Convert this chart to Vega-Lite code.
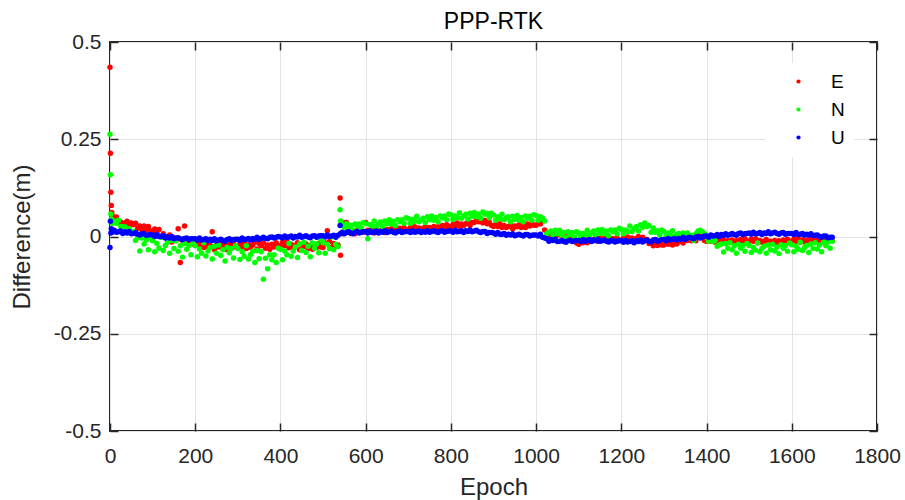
{
"$schema":"https://vega.github.io/schema/vega-lite/v6.json",
"width":767,"height":389,"autosize":"none",
"padding":{"left":110,"top":42,"right":28,"bottom":69},
"background":"white",
"config":{"view":{"stroke":"#262626","strokeWidth":2},"font":"Liberation Sans"},
"title":{"text":"PPP-RTK","fontSize":23,"font":"Liberation Sans","fontWeight":"normal","color":"#000000","offset":-3},
"data":{"values":[
{"t":0,"E":0.435,"N":0.263,"U":-0.028},
{"t":1,"E":0.214,"N":0.159,"U":0.039},
{"t":2,"E":0.114,"N":0.058,"U":0.009},
{"t":3,"E":0.080,"N":0.045,"U":0.020},
{"t":4,"E":0.062,"N":0.038,"U":0.015},
{"t":5,"E":0.054,"N":0.034,"U":0.011},
{"t":10,"E":0.046,"N":0.040,"U":0.016},
{"t":15,"E":0.050,"N":0.034,"U":0.011},
{"t":20,"E":0.036,"N":0.042,"U":0.012},
{"t":25,"E":0.037,"N":0.026,"U":0.014},
{"t":30,"E":0.032,"N":0.025,"U":0.008},
{"t":35,"E":0.035,"N":0.025,"U":0.012},
{"t":40,"E":0.039,"N":0.012,"U":0.009},
{"t":45,"E":0.028,"N":0.020,"U":0.013},
{"t":50,"E":0.035,"N":0.011,"U":0.007},
{"t":55,"E":0.030,"N":0.013,"U":0.008},
{"t":60,"E":0.034,"N":-0.010,"U":0.010},
{"t":65,"E":0.021,"N":-0.002,"U":0.006},
{"t":70,"E":0.027,"N":-0.037,"U":0.004},
{"t":75,"E":0.016,"N":-0.004,"U":0.007},
{"t":80,"E":0.027,"N":-0.019,"U":0.007},
{"t":85,"E":0.017,"N":-0.009,"U":0.003},
{"t":90,"E":0.026,"N":-0.034,"U":0.004},
{"t":95,"E":0.015,"N":-0.003,"U":0.005},
{"t":100,"E":0.011,"N":-0.011,"U":0.004},
{"t":105,"E":0.019,"N":-0.039,"U":0.000},
{"t":110,"E":0.009,"N":-0.018,"U":0.005},
{"t":115,"E":0.018,"N":-0.030,"U":0.000},
{"t":120,"E":-0.001,"N":-0.002,"U":0.000},
{"t":125,"E":0.007,"N":-0.036,"U":0.002},
{"t":130,"E":-0.003,"N":-0.023,"U":-0.004},
{"t":135,"E":0.000,"N":-0.015,"U":-0.001},
{"t":140,"E":0.004,"N":-0.043,"U":-0.004},
{"t":145,"E":-0.014,"N":-0.010,"U":0.000},
{"t":150,"E":-0.004,"N":-0.031,"U":-0.006},
{"t":155,"E":-0.010,"N":-0.011,"U":-0.004},
{"t":160,"E":0.020,"N":-0.038,"U":-0.003},
{"t":165,"E":-0.067,"N":-0.024,"U":-0.006},
{"t":170,"E":-0.010,"N":-0.053,"U":-0.008},
{"t":175,"E":0.027,"N":-0.018,"U":-0.005},
{"t":180,"E":-0.009,"N":-0.033,"U":-0.004},
{"t":185,"E":-0.018,"N":-0.023,"U":-0.008},
{"t":190,"E":-0.009,"N":-0.047,"U":-0.006},
{"t":195,"E":-0.019,"N":-0.016,"U":-0.006},
{"t":200,"E":-0.022,"N":-0.024,"U":-0.006},
{"t":205,"E":-0.013,"N":-0.052,"U":-0.009},
{"t":210,"E":-0.022,"N":-0.032,"U":-0.004},
{"t":215,"E":-0.011,"N":-0.043,"U":-0.009},
{"t":220,"E":-0.028,"N":-0.016,"U":-0.008},
{"t":225,"E":-0.019,"N":-0.050,"U":-0.006},
{"t":230,"E":-0.028,"N":-0.037,"U":-0.011},
{"t":235,"E":-0.023,"N":-0.029,"U":-0.007},
{"t":240,"E":0.012,"N":-0.058,"U":-0.010},
{"t":245,"E":-0.034,"N":-0.025,"U":-0.006},
{"t":250,"E":-0.022,"N":-0.043,"U":-0.011},
{"t":255,"E":-0.027,"N":-0.022,"U":-0.009},
{"t":260,"E":-0.020,"N":-0.049,"U":-0.007},
{"t":265,"E":-0.032,"N":-0.034,"U":-0.010},
{"t":270,"E":-0.024,"N":-0.063,"U":-0.012},
{"t":275,"E":-0.034,"N":-0.028,"U":-0.008},
{"t":280,"E":-0.020,"N":-0.042,"U":-0.006},
{"t":285,"E":-0.028,"N":-0.031,"U":-0.010},
{"t":290,"E":-0.018,"N":-0.055,"U":-0.008},
{"t":295,"E":-0.027,"N":-0.024,"U":-0.007},
{"t":300,"E":-0.029,"N":-0.031,"U":-0.007},
{"t":305,"E":-0.019,"N":-0.059,"U":-0.010},
{"t":310,"E":-0.026,"N":-0.039,"U":-0.004},
{"t":315,"E":-0.015,"N":-0.051,"U":-0.008},
{"t":320,"E":-0.031,"N":-0.024,"U":-0.007},
{"t":325,"E":-0.021,"N":-0.058,"U":-0.005},
{"t":330,"E":-0.028,"N":-0.046,"U":-0.009},
{"t":335,"E":-0.022,"N":-0.038,"U":-0.005},
{"t":340,"E":-0.015,"N":-0.067,"U":-0.007},
{"t":345,"E":-0.032,"N":-0.036,"U":-0.002},
{"t":350,"E":-0.018,"N":-0.057,"U":-0.007},
{"t":355,"E":-0.024,"N":-0.039,"U":-0.005},
{"t":360,"E":-0.017,"N":-0.110,"U":-0.002},
{"t":365,"E":-0.030,"N":-0.056,"U":-0.005},
{"t":370,"E":-0.022,"N":-0.083,"U":-0.006},
{"t":375,"E":-0.033,"N":-0.047,"U":-0.002},
{"t":380,"E":-0.020,"N":-0.060,"U":-0.001},
{"t":385,"E":-0.027,"N":-0.047,"U":-0.004},
{"t":390,"E":-0.016,"N":-0.067,"U":-0.002},
{"t":395,"E":-0.023,"N":-0.030,"U":0.000},
{"t":400,"E":-0.024,"N":-0.033,"U":-0.001},
{"t":405,"E":-0.015,"N":-0.060,"U":-0.004},
{"t":410,"E":-0.023,"N":-0.037,"U":0.001},
{"t":415,"E":-0.013,"N":-0.047,"U":-0.002},
{"t":420,"E":-0.029,"N":-0.018,"U":-0.001},
{"t":425,"E":-0.020,"N":-0.051,"U":0.001},
{"t":430,"E":-0.028,"N":-0.037,"U":-0.004},
{"t":435,"E":-0.023,"N":-0.027,"U":0.000},
{"t":440,"E":-0.016,"N":-0.054,"U":-0.001},
{"t":445,"E":-0.034,"N":-0.019,"U":0.003},
{"t":450,"E":-0.021,"N":-0.036,"U":-0.002},
{"t":455,"E":-0.026,"N":-0.015,"U":0.000},
{"t":460,"E":-0.019,"N":-0.041,"U":0.002},
{"t":465,"E":-0.031,"N":-0.025,"U":-0.001},
{"t":470,"E":-0.023,"N":-0.052,"U":-0.003},
{"t":475,"E":-0.033,"N":-0.017,"U":0.001},
{"t":480,"E":-0.020,"N":-0.030,"U":0.002},
{"t":485,"E":-0.028,"N":-0.019,"U":-0.002},
{"t":490,"E":-0.018,"N":-0.042,"U":0.001},
{"t":495,"E":-0.027,"N":-0.009,"U":0.002},
{"t":500,"E":-0.028,"N":-0.016,"U":0.002},
{"t":505,"E":-0.017,"N":-0.043,"U":-0.001},
{"t":510,"E":0.015,"N":-0.020,"U":0.004},
{"t":515,"E":-0.013,"N":-0.031,"U":0.000},
{"t":520,"E":-0.028,"N":-0.001,"U":0.001},
{"t":525,"E":-0.018,"N":-0.034,"U":0.003},
{"t":530,"E":-0.025,"N":-0.020,"U":-0.002},
{"t":535,"E":-0.022,"N":-0.026,"U":0.003},
{"t":540,"E":0.099,"N":0.069,"U":0.028},
{"t":541,"E":-0.048,"N":0.040,"U":0.008},
{"t":545,"E":0.007,"N":0.031,"U":0.011},
{"t":550,"E":0.035,"N":0.024,"U":0.007},
{"t":555,"E":0.036,"N":0.033,"U":0.010},
{"t":560,"E":0.016,"N":0.022,"U":0.012},
{"t":565,"E":0.008,"N":0.029,"U":0.009},
{"t":570,"E":0.013,"N":0.017,"U":0.007},
{"t":575,"E":0.007,"N":0.032,"U":0.011},
{"t":580,"E":0.015,"N":0.027,"U":0.013},
{"t":585,"E":0.010,"N":0.032,"U":0.009},
{"t":590,"E":0.016,"N":0.022,"U":0.011},
{"t":595,"E":0.011,"N":0.036,"U":0.012},
{"t":600,"E":0.036,"N":0.033,"U":0.012},
{"t":605,"E":0.016,"N":-0.006,"U":0.009},
{"t":610,"E":0.012,"N":0.031,"U":0.014},
{"t":615,"E":0.019,"N":0.027,"U":0.010},
{"t":620,"E":0.009,"N":0.040,"U":0.011},
{"t":625,"E":0.016,"N":0.026,"U":0.014},
{"t":630,"E":0.011,"N":0.032,"U":0.009},
{"t":635,"E":0.015,"N":0.037,"U":0.013},
{"t":640,"E":0.020,"N":0.025,"U":0.011},
{"t":645,"E":0.010,"N":0.040,"U":0.015},
{"t":650,"E":0.018,"N":0.033,"U":0.010},
{"t":655,"E":0.016,"N":0.043,"U":0.012},
{"t":660,"E":0.020,"N":0.032,"U":0.014},
{"t":665,"E":0.013,"N":0.039,"U":0.011},
{"t":670,"E":0.018,"N":0.028,"U":0.009},
{"t":675,"E":0.013,"N":0.043,"U":0.013},
{"t":680,"E":0.021,"N":0.038,"U":0.014},
{"t":685,"E":0.016,"N":0.043,"U":0.010},
{"t":690,"E":0.023,"N":0.034,"U":0.012},
{"t":695,"E":0.018,"N":0.048,"U":0.013},
{"t":700,"E":0.017,"N":0.046,"U":0.013},
{"t":705,"E":0.023,"N":0.034,"U":0.010},
{"t":710,"E":0.018,"N":0.044,"U":0.015},
{"t":715,"E":0.025,"N":0.039,"U":0.011},
{"t":720,"E":0.016,"N":0.052,"U":0.012},
{"t":725,"E":0.022,"N":0.038,"U":0.014},
{"t":730,"E":0.017,"N":0.043,"U":0.010},
{"t":735,"E":0.021,"N":0.047,"U":0.013},
{"t":740,"E":0.025,"N":0.036,"U":0.011},
{"t":745,"E":0.015,"N":0.051,"U":0.015},
{"t":750,"E":0.023,"N":0.043,"U":0.011},
{"t":755,"E":0.021,"N":0.053,"U":0.013},
{"t":760,"E":0.026,"N":0.042,"U":0.015},
{"t":765,"E":0.019,"N":0.049,"U":0.012},
{"t":770,"E":0.025,"N":0.038,"U":0.010},
{"t":775,"E":0.019,"N":0.053,"U":0.014},
{"t":780,"E":0.028,"N":0.048,"U":0.015},
{"t":785,"E":0.023,"N":0.053,"U":0.011},
{"t":790,"E":0.030,"N":0.044,"U":0.013},
{"t":795,"E":0.025,"N":0.058,"U":0.014},
{"t":800,"E":0.025,"N":0.056,"U":0.014},
{"t":805,"E":0.031,"N":0.044,"U":0.011},
{"t":810,"E":0.027,"N":0.053,"U":0.016},
{"t":815,"E":0.035,"N":0.049,"U":0.012},
{"t":820,"E":0.026,"N":0.061,"U":0.013},
{"t":825,"E":0.032,"N":0.047,"U":0.015},
{"t":830,"E":0.028,"N":0.053,"U":0.010},
{"t":835,"E":0.033,"N":0.057,"U":0.015},
{"t":840,"E":0.037,"N":0.045,"U":0.013},
{"t":845,"E":0.028,"N":0.060,"U":0.017},
{"t":850,"E":0.036,"N":0.052,"U":0.012},
{"t":855,"E":0.036,"N":0.062,"U":0.014},
{"t":860,"E":0.043,"N":0.051,"U":0.016},
{"t":865,"E":0.038,"N":0.058,"U":0.012},
{"t":870,"E":0.045,"N":0.047,"U":0.010},
{"t":875,"E":0.035,"N":0.063,"U":0.013},
{"t":880,"E":0.041,"N":0.057,"U":0.013},
{"t":885,"E":0.033,"N":0.060,"U":0.008},
{"t":890,"E":0.037,"N":0.048,"U":0.010},
{"t":895,"E":0.029,"N":0.060,"U":0.010},
{"t":900,"E":0.026,"N":0.055,"U":0.009},
{"t":905,"E":0.031,"N":0.042,"U":0.006},
{"t":910,"E":0.026,"N":0.051,"U":0.010},
{"t":915,"E":0.033,"N":0.046,"U":0.006},
{"t":920,"E":0.023,"N":0.057,"U":0.006},
{"t":925,"E":0.028,"N":0.043,"U":0.008},
{"t":930,"E":0.023,"N":0.048,"U":0.003},
{"t":935,"E":0.026,"N":0.051,"U":0.006},
{"t":940,"E":0.030,"N":0.038,"U":0.004},
{"t":945,"E":0.020,"N":0.052,"U":0.007},
{"t":950,"E":0.027,"N":0.044,"U":0.002},
{"t":955,"E":0.025,"N":0.054,"U":0.004},
{"t":960,"E":0.030,"N":0.042,"U":0.006},
{"t":965,"E":0.023,"N":0.049,"U":0.003},
{"t":970,"E":0.029,"N":0.038,"U":0.001},
{"t":975,"E":0.023,"N":0.053,"U":0.005},
{"t":980,"E":0.032,"N":0.047,"U":0.005},
{"t":985,"E":0.027,"N":0.052,"U":0.001},
{"t":990,"E":0.034,"N":0.042,"U":0.003},
{"t":995,"E":0.029,"N":0.056,"U":0.004},
{"t":1000,"E":0.029,"N":0.054,"U":0.004},
{"t":1005,"E":0.036,"N":0.042,"U":0.001},
{"t":1010,"E":0.032,"N":0.051,"U":0.006},
{"t":1015,"E":0.040,"N":0.047,"U":-0.002},
{"t":1020,"E":0.017,"N":0.040,"U":-0.004},
{"t":1025,"E":0.010,"N":0.007,"U":-0.006},
{"t":1030,"E":0.004,"N":0.011,"U":-0.012},
{"t":1035,"E":0.007,"N":0.014,"U":-0.008},
{"t":1040,"E":0.011,"N":0.002,"U":-0.010},
{"t":1045,"E":0.000,"N":0.016,"U":-0.007},
{"t":1050,"E":0.008,"N":0.007,"U":-0.013},
{"t":1055,"E":0.004,"N":0.016,"U":-0.012},
{"t":1060,"E":0.008,"N":0.004,"U":-0.010},
{"t":1065,"E":-0.002,"N":0.010,"U":-0.013},
{"t":1070,"E":0.000,"N":-0.003,"U":-0.015},
{"t":1075,"E":-0.009,"N":0.012,"U":-0.011},
{"t":1080,"E":-0.004,"N":0.005,"U":-0.010},
{"t":1085,"E":-0.012,"N":0.010,"U":-0.013},
{"t":1090,"E":-0.008,"N":-0.001,"U":-0.011},
{"t":1095,"E":-0.017,"N":0.012,"U":-0.010},
{"t":1100,"E":-0.020,"N":0.009,"U":-0.010},
{"t":1105,"E":-0.013,"N":-0.002,"U":-0.013},
{"t":1110,"E":-0.016,"N":0.008,"U":-0.008},
{"t":1115,"E":-0.008,"N":0.004,"U":-0.012},
{"t":1120,"E":-0.016,"N":0.016,"U":-0.010},
{"t":1125,"E":-0.009,"N":0.003,"U":-0.008},
{"t":1130,"E":-0.012,"N":0.009,"U":-0.013},
{"t":1135,"E":-0.007,"N":0.014,"U":-0.009},
{"t":1140,"E":-0.001,"N":0.003,"U":-0.011},
{"t":1145,"E":-0.012,"N":0.017,"U":-0.007},
{"t":1150,"E":-0.004,"N":0.009,"U":-0.012},
{"t":1155,"E":-0.007,"N":0.018,"U":-0.011},
{"t":1160,"E":-0.003,"N":0.007,"U":-0.009},
{"t":1165,"E":-0.011,"N":0.014,"U":-0.012},
{"t":1170,"E":-0.006,"N":0.002,"U":-0.014},
{"t":1175,"E":-0.012,"N":0.017,"U":-0.010},
{"t":1180,"E":-0.005,"N":0.012,"U":-0.010},
{"t":1185,"E":-0.010,"N":0.017,"U":-0.014},
{"t":1190,"E":-0.004,"N":0.007,"U":-0.012},
{"t":1195,"E":-0.009,"N":0.021,"U":-0.011},
{"t":1200,"E":-0.010,"N":0.018,"U":-0.011},
{"t":1205,"E":-0.004,"N":0.007,"U":-0.015},
{"t":1210,"E":-0.008,"N":0.017,"U":-0.010},
{"t":1215,"E":-0.001,"N":0.013,"U":-0.014},
{"t":1220,"E":-0.011,"N":0.027,"U":-0.013},
{"t":1225,"E":-0.004,"N":0.013,"U":-0.011},
{"t":1230,"E":-0.009,"N":0.020,"U":-0.016},
{"t":1235,"E":-0.005,"N":0.025,"U":-0.011},
{"t":1240,"E":0.000,"N":0.014,"U":-0.013},
{"t":1245,"E":-0.010,"N":0.030,"U":-0.009},
{"t":1250,"E":-0.002,"N":0.024,"U":-0.014},
{"t":1255,"E":-0.008,"N":0.035,"U":-0.011},
{"t":1260,"E":-0.008,"N":0.026,"U":-0.009},
{"t":1265,"E":-0.018,"N":0.028,"U":-0.012},
{"t":1270,"E":-0.017,"N":0.011,"U":-0.014},
{"t":1275,"E":-0.024,"N":0.022,"U":-0.009},
{"t":1280,"E":-0.019,"N":0.011,"U":-0.008},
{"t":1285,"E":-0.023,"N":0.015,"U":-0.012},
{"t":1290,"E":-0.017,"N":0.004,"U":-0.010},
{"t":1295,"E":-0.022,"N":0.017,"U":-0.008},
{"t":1300,"E":-0.022,"N":0.013,"U":-0.008},
{"t":1305,"E":-0.016,"N":0.000,"U":-0.011},
{"t":1310,"E":-0.020,"N":0.009,"U":-0.005},
{"t":1315,"E":-0.013,"N":0.003,"U":-0.009},
{"t":1320,"E":-0.022,"N":0.015,"U":-0.007},
{"t":1325,"E":-0.015,"N":0.000,"U":-0.005},
{"t":1330,"E":-0.019,"N":0.005,"U":-0.009},
{"t":1335,"E":-0.014,"N":0.008,"U":-0.005},
{"t":1340,"E":-0.008,"N":-0.005,"U":-0.007},
{"t":1345,"E":-0.017,"N":0.009,"U":-0.002},
{"t":1350,"E":-0.008,"N":0.000,"U":-0.007},
{"t":1355,"E":-0.010,"N":0.009,"U":-0.004},
{"t":1360,"E":-0.005,"N":-0.003,"U":-0.002},
{"t":1365,"E":-0.011,"N":0.003,"U":-0.004},
{"t":1370,"E":-0.005,"N":-0.010,"U":-0.006},
{"t":1375,"E":-0.011,"N":0.007,"U":-0.001},
{"t":1380,"E":0.006,"N":0.014,"U":0.000},
{"t":1385,"E":0.008,"N":0.016,"U":-0.004},
{"t":1390,"E":0.004,"N":0.012,"U":-0.001},
{"t":1395,"E":-0.010,"N":0.008,"U":0.001},
{"t":1400,"E":-0.012,"N":-0.002,"U":0.001},
{"t":1405,"E":-0.007,"N":-0.012,"U":-0.002},
{"t":1410,"E":-0.012,"N":-0.002,"U":0.004},
{"t":1415,"E":-0.006,"N":-0.013,"U":0.001},
{"t":1420,"E":-0.015,"N":-0.010,"U":0.002},
{"t":1425,"E":-0.010,"N":-0.025,"U":0.005},
{"t":1430,"E":-0.015,"N":-0.022,"U":0.000},
{"t":1435,"E":-0.012,"N":-0.019,"U":0.005},
{"t":1440,"E":-0.008,"N":-0.040,"U":0.003},
{"t":1445,"E":-0.018,"N":-0.018,"U":0.007},
{"t":1450,"E":-0.011,"N":-0.030,"U":0.003},
{"t":1455,"E":-0.013,"N":-0.016,"U":0.005},
{"t":1460,"E":-0.009,"N":-0.034,"U":0.008},
{"t":1465,"E":-0.016,"N":-0.024,"U":0.005},
{"t":1470,"E":-0.011,"N":-0.043,"U":0.003},
{"t":1475,"E":-0.016,"N":-0.020,"U":0.008},
{"t":1480,"E":-0.008,"N":-0.030,"U":0.009},
{"t":1485,"E":-0.013,"N":-0.023,"U":0.005},
{"t":1490,"E":-0.006,"N":-0.038,"U":0.007},
{"t":1495,"E":-0.012,"N":-0.018,"U":0.008},
{"t":1500,"E":-0.012,"N":-0.023,"U":0.009},
{"t":1505,"E":-0.007,"N":-0.041,"U":0.006},
{"t":1510,"E":-0.012,"N":-0.028,"U":0.011},
{"t":1515,"E":-0.006,"N":-0.035,"U":0.007},
{"t":1520,"E":-0.016,"N":-0.017,"U":0.008},
{"t":1525,"E":-0.010,"N":-0.039,"U":0.010},
{"t":1530,"E":-0.015,"N":-0.031,"U":0.005},
{"t":1535,"E":-0.012,"N":-0.025,"U":0.009},
{"t":1540,"E":-0.008,"N":-0.043,"U":0.008},
{"t":1545,"E":-0.019,"N":-0.022,"U":0.012},
{"t":1550,"E":-0.012,"N":-0.034,"U":0.007},
{"t":1555,"E":-0.014,"N":-0.020,"U":0.009},
{"t":1560,"E":-0.010,"N":-0.037,"U":0.011},
{"t":1565,"E":-0.016,"N":-0.027,"U":0.008},
{"t":1570,"E":-0.011,"N":-0.044,"U":0.006},
{"t":1575,"E":-0.017,"N":-0.021,"U":0.009},
{"t":1580,"E":-0.009,"N":-0.030,"U":0.010},
{"t":1585,"E":-0.013,"N":-0.023,"U":0.006},
{"t":1590,"E":-0.007,"N":-0.038,"U":0.008},
{"t":1595,"E":-0.012,"N":-0.017,"U":0.008},
{"t":1600,"E":-0.012,"N":-0.021,"U":0.008},
{"t":1605,"E":-0.007,"N":-0.039,"U":0.005},
{"t":1610,"E":-0.012,"N":-0.025,"U":0.010},
{"t":1615,"E":-0.005,"N":-0.033,"U":0.005},
{"t":1620,"E":-0.015,"N":-0.015,"U":0.006},
{"t":1625,"E":-0.009,"N":-0.036,"U":0.008},
{"t":1630,"E":-0.014,"N":-0.028,"U":0.003},
{"t":1635,"E":-0.011,"N":-0.023,"U":0.006},
{"t":1640,"E":-0.007,"N":-0.041,"U":0.004},
{"t":1645,"E":-0.017,"N":-0.019,"U":0.007},
{"t":1650,"E":-0.010,"N":-0.031,"U":0.002},
{"t":1655,"E":-0.012,"N":-0.016,"U":0.003},
{"t":1660,"E":-0.008,"N":-0.032,"U":0.004},
{"t":1665,"E":-0.015,"N":-0.022,"U":0.000},
{"t":1670,"E":-0.010,"N":-0.039,"U":-0.002},
{"t":1675,"E":-0.016,"N":-0.015,"U":0.001},
{"t":1680,"E":-0.008,"N":-0.024,"U":0.001},
{"t":1685,"E":-0.012,"N":-0.015,"U":-0.003},
{"t":1690,"E":-0.006,"N":-0.030,"U":-0.002},
{"t":1695,"E":-0.011,"N":-0.012,"U":-0.002}
]},
"transform":[{"fold":["E","N","U"],"as":["series","value"]}],
"layer":[
{"mark":{"type":"point","filled":true,"size":30,"opacity":1,"strokeWidth":0},
 "encoding":{
  "x":{"field":"t","type":"quantitative","scale":{"domain":[0,1800],"nice":false,"zero":false},
   "axis":{"orient":"bottom","values":[0,200,400,600,800,1000,1200,1400,1600,1800],"format":"d","grid":true,"gridColor":"#e3e3e3","gridWidth":1,"domain":false,"ticks":true,"tickSize":-8,"tickColor":"#262626","tickWidth":1.5,"labelFontSize":21,"labelFont":"Liberation Sans","labelColor":"#262626","labelPadding":22,"labelFlush":false,"labelOverlap":false,"title":"Epoch","titleFontSize":24,"titleFont":"Liberation Sans","titleFontWeight":"normal","titleColor":"#262626","titlePadding":9}},
  "y":{"field":"value","type":"quantitative","scale":{"domain":[-0.5,0.5],"nice":false,"zero":false},
   "axis":{"orient":"left","values":[-0.5,-0.25,0,0.25,0.5],"labelExpr":"'' + datum.value","grid":true,"gridColor":"#e3e3e3","gridWidth":1,"domain":false,"ticks":true,"tickSize":-8,"tickColor":"#262626","tickWidth":1.5,"labelFontSize":21,"labelFont":"Liberation Sans","labelColor":"#262626","labelPadding":17,"labelFlush":false,"labelOverlap":false,"title":"Difference(m)","titleFontSize":24,"titleFont":"Liberation Sans","titleFontWeight":"normal","titleColor":"#262626","titlePadding":19}},
  "color":{"field":"series","type":"nominal","scale":{"domain":["E","N","U"],"range":["#ff0000","#00ff00","#0000ff"]},
   "legend":{"orient":"none","legendX":655,"legendY":21,"title":null,"fillColor":"white","padding":9,"symbolType":"circle","symbolSize":18,"symbolOffset":15,"labelOffset":23,"labelFontSize":19,"labelFont":"Liberation Sans","labelColor":"#000000","rowPadding":8,"symbolStrokeWidth":0}},
  "order":{"field":"series","type":"ordinal","sort":"ascending"}
 }},
{"mark":{"type":"point","opacity":0},
 "encoding":{
  "x":{"field":"t","type":"quantitative","axis":{"orient":"top","values":[0,200,400,600,800,1000,1200,1400,1600,1800],"labels":false,"grid":false,"domain":false,"tickSize":-8,"tickColor":"#262626","tickWidth":1.5,"title":null}},
  "y":{"field":"value","type":"quantitative","axis":{"orient":"right","values":[-0.5,-0.25,0,0.25,0.5],"labels":false,"grid":false,"domain":false,"tickSize":-8,"tickColor":"#262626","tickWidth":1.5,"title":null}}
 }}
],
"resolve":{"axis":{"x":"independent","y":"independent"}}
}
